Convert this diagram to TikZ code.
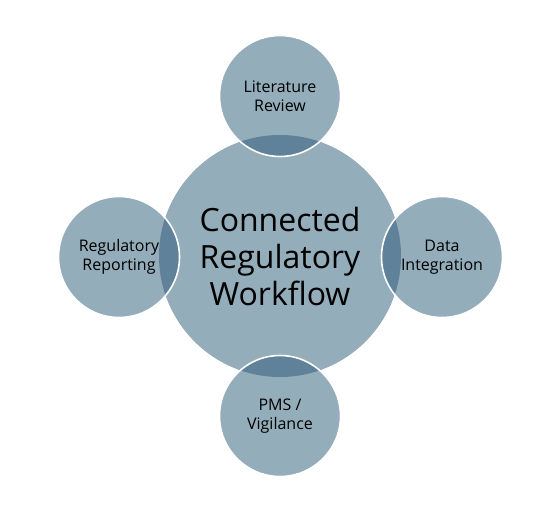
\documentclass[tikz,border=0pt]{standalone}
\usepackage{fontspec}
\setmainfont{Open Sans}
\definecolor{base}{HTML}{94ADBB}
\definecolor{overlap}{HTML}{5F8199}
\begin{document}
\begin{tikzpicture}[x=1pt,y=-1pt,
  hubstyle/.style={circle, fill=base, minimum size=242pt, inner sep=0pt, align=center, font=\fontsize{32}{37}\selectfont},
  smallstyle/.style={circle, fill=base, minimum size=121pt, inner sep=0pt, align=center, font=\fontsize{16}{19.5}\selectfont},
  ringstyle/.style={draw=white, line width=1.6pt}]
\useasboundingbox (0,0) rectangle (556,506);
\node[hubstyle] (hub) at (280,256) {Connected\\Regulatory\\Workflow};
\node[smallstyle] (lit) at (280,96) {Literature\\Review};
\node[smallstyle] (data) at (442,257) {Data\\Integration};
\node[smallstyle] (pms) at (280,416) {PMS /\\Vigilance};
\node[smallstyle] (reg) at (119,257) {Regulatory\\Reporting};
\foreach \n in {lit,data,pms,reg}{
  \begin{scope}
    \clip (hub.center) circle (121pt);
    \fill[overlap] (\n.center) circle (60.5pt);
  \end{scope}
  \draw[ringstyle] (\n.center) circle (60.5pt);
}
\end{tikzpicture}
\end{document}
